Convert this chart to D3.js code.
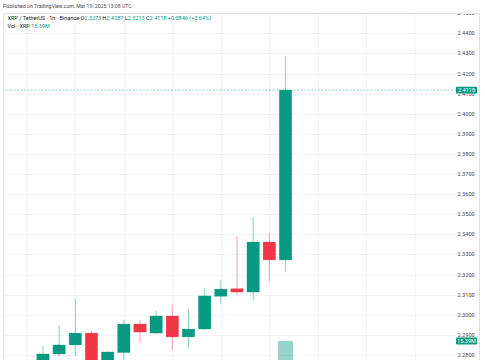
<!DOCTYPE html>
<html>
<head>
<meta charset="utf-8">
<script src="https://cdn.jsdelivr.net/npm/d3@7"></script>
<style>
  body { margin: 0; background: #fff; }
  svg { display: block; font-family: Roboto, "Noto Sans", sans-serif; }
</style>
</head>
<body>
<svg width="485" height="360"></svg>
<script>
var times = [
  "2025-03-18T22:00Z", "2025-03-18T23:00Z", "2025-03-19T00:00Z", "2025-03-19T01:00Z",
  "2025-03-19T02:00Z", "2025-03-19T03:00Z", "2025-03-19T04:00Z", "2025-03-19T05:00Z",
  "2025-03-19T06:00Z", "2025-03-19T07:00Z", "2025-03-19T08:00Z", "2025-03-19T09:00Z",
  "2025-03-19T10:00Z", "2025-03-19T11:00Z", "2025-03-19T12:00Z", "2025-03-19T13:00Z"
];
var opens  = [2.2760, 2.2805, 2.2850, 2.2909, 2.2740, 2.2812, 2.2954, 2.2909, 2.2994, 2.2890, 2.2929, 2.3092, 2.3130, 2.3113, 2.3362, 2.3273];
var highs  = [2.2845, 2.2949, 2.3079, 2.2919, 2.2820, 2.2974, 2.2974, 2.3019, 2.3049, 2.3029, 2.3133, 2.3171, 2.3392, 2.3487, 2.3407, 2.4287];
var lows   = [2.2735, 2.2790, 2.2795, 2.2715, 2.2725, 2.2755, 2.2860, 2.2906, 2.2825, 2.2835, 2.2927, 2.3054, 2.3099, 2.3074, 2.3168, 2.3213];
var closes = [2.2805, 2.2850, 2.2909, 2.2740, 2.2815, 2.2954, 2.2914, 2.2994, 2.2890, 2.2929, 2.3094, 2.3128, 2.3113, 2.3362, 2.3273, 2.4118];
var volumes = [3.1, 4.2, 5.0, 5.5, 3.8, 4.6, 3.2, 3.0, 4.4, 3.5, 4.9, 3.3, 6.2, 8.1, 7.4, 15.39];
var priceTicks = [2.28, 2.29, 2.30, 2.31, 2.32, 2.33, 2.34, 2.35, 2.36, 2.37, 2.38, 2.39, 2.40, 2.41, 2.42, 2.43, 2.44, 2.45];
var changeText = "+0.0846 (+3.64%)";

var green = "#089981", red = "#F23645";

var svg = d3.select("svg"),
  pane = {left: 3, top: 13, right: 456, bottom: 360},
  frameRight = 479;

var data = times.map(function(t, i) {
  return {date: new Date(t), open: opens[i], high: highs[i], low: lows[i], close: closes[i], vol: volumes[i]};
});
var last = data[data.length - 1];

var x = d3.scaleUtc()
  .domain([new Date("2025-03-18T21:00Z"), new Date("2025-03-19T23:00Z")])
  .range([26.8, 26.8 + 26 * 16.17]);
var y = d3.scaleLinear().domain([2.28, 2.44]).range([355, 33.4]);
var yv = d3.scaleLinear().domain([0, d3.max(volumes)]).range([400, 341]);

svg.append("clipPath").attr("id", "paneClip")
  .append("rect")
  .attr("x", pane.left).attr("y", pane.top)
  .attr("width", pane.right - pane.left).attr("height", pane.bottom - pane.top);
svg.append("clipPath").attr("id", "axisClip")
  .append("rect")
  .attr("x", pane.right).attr("y", pane.top + 0.5)
  .attr("width", frameRight - pane.right).attr("height", pane.bottom - pane.top);

var g = svg.append("g").attr("clip-path", "url(#paneClip)");

// grid
g.selectAll(".hgrid")
  .data(priceTicks)
  .enter().append("line")
  .attr("class", "hgrid")
  .attr("x1", pane.left).attr("x2", pane.right)
  .attr("y1", function(d) { return Math.round(y(d)) + 0.5; })
  .attr("y2", function(d) { return Math.round(y(d)) + 0.5; })
  .attr("stroke", "#f0f3fa");

g.selectAll(".vgrid")
  .data(x.ticks(d3.utcHour.every(3)))
  .enter().append("line")
  .attr("class", "vgrid")
  .attr("x1", function(d) { return Math.round(x(d)) + 0.5; })
  .attr("x2", function(d) { return Math.round(x(d)) + 0.5; })
  .attr("y1", pane.top).attr("y2", pane.bottom)
  .attr("stroke", "#f0f3fa");

// volume
var bw = 12.5;
g.selectAll(".vol")
  .data(data)
  .enter().append("rect")
  .attr("class", "vol")
  .attr("x", function(d) { return x(d.date) - 7.5; })
  .attr("width", 15)
  .attr("y", function(d) { return yv(d.vol); })
  .attr("height", function(d) { return yv(0) - yv(d.vol); })
  .attr("fill", function(d) { return d.close >= d.open ? green : red; })
  .attr("fill-opacity", 0.42);

// current price line
g.append("line")
  .attr("x1", pane.left).attr("x2", pane.right)
  .attr("y1", y(last.close)).attr("y2", y(last.close))
  .attr("stroke", green).attr("stroke-opacity", 0.45)
  .attr("stroke-dasharray", "2,1.5");

// candles
var candle = g.selectAll(".candle")
  .data(data)
  .enter().append("g")
  .attr("class", "candle");

candle.append("line")
  .attr("x1", function(d) { return x(d.date); })
  .attr("x2", function(d) { return x(d.date); })
  .attr("y1", function(d) { return y(d.high); })
  .attr("y2", function(d) { return y(d.low); })
  .attr("stroke", function(d) { return d.close >= d.open ? green : red; })
  .attr("stroke-opacity", 0.5)
  .attr("stroke-width", 0.9);

candle.append("rect")
  .attr("x", function(d) { return x(d.date) - bw / 2; })
  .attr("width", bw)
  .attr("y", function(d) { return y(Math.max(d.open, d.close)); })
  .attr("height", function(d) { return Math.max(1, Math.abs(y(d.open) - y(d.close))); })
  .attr("fill", function(d) { return d.close >= d.open ? green : red; })
  .attr("stroke", function(d) { return d.close >= d.open ? green : red; })
  .attr("stroke-opacity", 0.35)
  .attr("stroke-width", 0.6);

// price scale
var ax = svg.append("g").attr("clip-path", "url(#axisClip)");
ax.selectAll(".tick")
  .data(priceTicks)
  .enter().append("text")
  .attr("x", 457.5)
  .attr("y", function(d) { return y(d); })
  .attr("dy", "0.35em")
  .style("font-size", "5.6px")
  .attr("fill", "#434651")
  .text(function(d) { return d3.format(".4f")(d); });

function badge(cy, label) {
  ax.append("rect")
    .attr("x", 456).attr("y", cy - 3.4)
    .attr("width", 21).attr("height", 6.8)
    .attr("rx", 0.8)
    .attr("fill", green);
  ax.append("text")
    .attr("x", 466.5).attr("y", cy)
    .attr("dy", "0.35em")
    .attr("text-anchor", "middle")
    .style("font-size", "5.6px")
    .attr("fill", "#fff")
    .text(label);
}
badge(y(last.close), d3.format(".4f")(last.close));
badge(yv(last.vol), last.vol.toFixed(2) + "M");

// frame
var frame = svg.append("g").attr("stroke", "#e0e3eb").attr("fill", "none");
frame.append("line").attr("x1", pane.left).attr("x2", frameRight).attr("y1", pane.top + 0.5).attr("y2", pane.top + 0.5);
frame.append("line").attr("x1", pane.left + 0.5).attr("x2", pane.left + 0.5).attr("y1", pane.top).attr("y2", 360);
frame.append("line").attr("x1", frameRight + 0.5).attr("x2", frameRight + 0.5).attr("y1", pane.top).attr("y2", 360);

// header + legend
svg.append("text")
  .attr("x", 3).attr("y", 6)
  .attr("dy", "0.35em")
  .style("font-size", "5.2px")
  .attr("fill", "#4a4a4a")
  .text("Published on TradingView.com, Mar 19, 2025 13:08 UTC");

var f4 = d3.format(".4f");
var legend = svg.append("text")
  .attr("x", 7.5).attr("y", 17.8)
  .attr("dy", "0.35em")
  .style("font-size", "5.5px")
  .attr("fill", "#131722");
legend.append("tspan").text("XRP / TetherUS · 1h · Binance  O");
legend.append("tspan").attr("fill", green).text(f4(last.open));
legend.append("tspan").text("  H");
legend.append("tspan").attr("fill", green).text(f4(last.high));
legend.append("tspan").text("  L");
legend.append("tspan").attr("fill", green).text(f4(last.low));
legend.append("tspan").text("  C");
legend.append("tspan").attr("fill", green).text(f4(last.close));
legend.append("tspan").attr("fill", green).text("  " + changeText);

var vlegend = svg.append("text")
  .attr("x", 7.5).attr("y", 25.7)
  .attr("dy", "0.35em")
  .style("font-size", "5.5px")
  .attr("fill", "#131722");
vlegend.append("tspan").text("Vol · XRP  ");
vlegend.append("tspan").attr("fill", green).text(last.vol.toFixed(2) + "M");
</script>
</body>
</html>
